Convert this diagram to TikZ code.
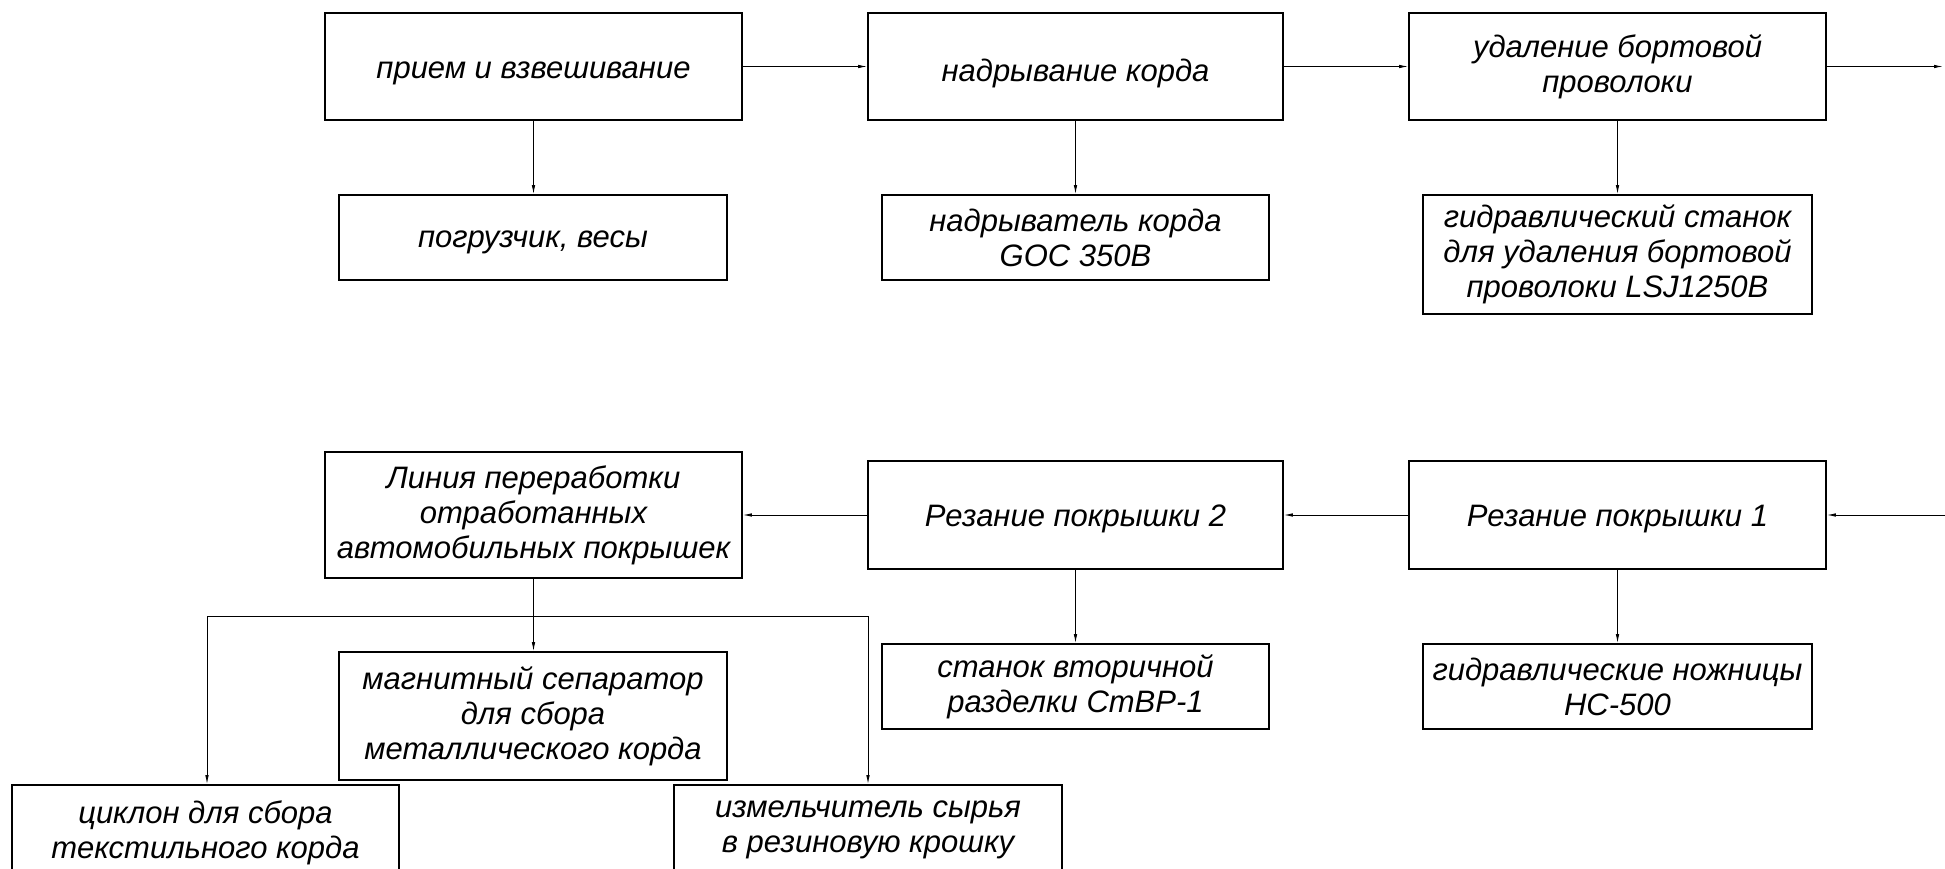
\documentclass[tikz,border=0pt]{standalone}
\usepackage{fontspec}
\setmainfont{Liberation Sans}
\usetikzlibrary{arrows.meta}
\newcommand{\lowtxt}[2]{\raisebox{-#1}[\height][\depth]{#2}}
\tikzset{
  box/.style={draw, line width=1.6pt, inner sep=0pt, align=center,
    font=\fontsize{31}{35}\selectfont\itshape},
  arr/.style={line width=0.9pt, -{Latex[length=9pt,width=3.5pt]}},
  ln/.style={line width=0.9pt}
}
\begin{document}
\begin{tikzpicture}[x=1pt,y=-1pt]
\clip (0,0) rectangle (1945,869);
\fill[white] (0,0) rectangle (1945,869);
% row 1
\node[box, minimum width=417pt, minimum height=107pt] (A) at (533.5,66.5) {\lowtxt{7pt}{прием и взвешивание}};
\node[box, minimum width=415pt, minimum height=107pt] (B) at (1075.5,66.5) {\lowtxt{7pt}{надрывание корда}};
\node[box, minimum width=417pt, minimum height=107pt] (C) at (1617.5,66.5) {удаление бортовой\\проволоки};
% row 2
\node[box, minimum width=388pt, minimum height=85pt] (A2) at (533,237.5) {\lowtxt{5pt}{погрузчик, весы}};
\node[box, minimum width=387pt, minimum height=85pt] (B2) at (1075.5,237.5) {надрыватель корда\\GOC 350B};
\node[box, minimum width=389pt, minimum height=119pt] (C2) at (1617.5,254.5) {гидравлический станок\\для удаления бортовой\\проволоки LSJ1250B};
% row 3
\node[box, minimum width=417pt, minimum height=108pt] (R1) at (1617.5,515) {\lowtxt{4pt}{Резание покрышки 1}};
\node[box, minimum width=415pt, minimum height=108pt] (R2) at (1075.5,515) {\lowtxt{4pt}{Резание покрышки 2}};
\node[box, minimum width=417pt, minimum height=126pt] (L) at (533.5,515) {Линия переработки\\отработанных\\автомобильных покрышек};
% row 4
\node[box, minimum width=389pt, minimum height=85pt] (N1) at (1617.5,686.5) {гидравлические ножницы\\НС-500};
\node[box, minimum width=387pt, minimum height=85pt] (N2) at (1075.5,686.5) {станок вторичной\\разделки СтВР-1};
\node[box, minimum width=388pt, minimum height=128pt] (M) at (533,716) {магнитный сепаратор\\для сбора\\металлического корда};
% row 5
\node[box, minimum width=387pt, minimum height=96pt] (Cy) at (205.5,833) {циклон для сбора\\текстильного корда};
\node[box, minimum width=388pt, minimum height=90pt] (I) at (868,830) {измельчитель сырья\\в резиновую крошку};
% free ends
\coordinate (outR) at (1943,66.5);
\coordinate (inR) at (1945,515);
\coordinate (jL) at (207,616);
\coordinate (jR) at (868,616);
% connectors
\draw[arr] (A) -- (B);
\draw[arr] (B) -- (C);
\draw[arr] (C.east) -- (outR);
\draw[arr] (inR) -- (R1.east);
\draw[arr] (R1) -- (R2);
\draw[arr] (R2) -- (L);
\draw[arr] (A.south) -- (A.south |- A2.north);
\draw[arr] (B.south) -- (B.south |- B2.north);
\draw[arr] (C.south) -- (C.south |- C2.north);
\draw[arr] (R1.south) -- (R1.south |- N1.north);
\draw[arr] (R2.south) -- (R2.south |- N2.north);
\draw[arr] (L.south) -- (L.south |- M.north);
\draw[ln] (jL) -- (jR);
\draw[arr] (jL) -- (jL |- Cy.north);
\draw[arr] (jR) -- (jR |- I.north);
\end{tikzpicture}
\end{document}
